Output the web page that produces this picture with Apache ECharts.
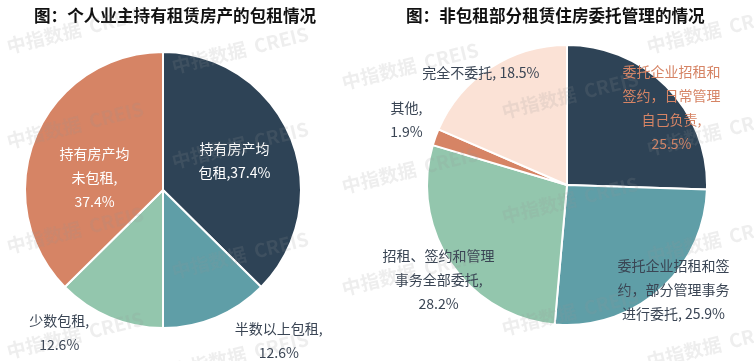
<!DOCTYPE html>
<html><head><meta charset="utf-8">
<script src="https://cdn.jsdelivr.net/npm/echarts@6/dist/echarts.min.js"></script>
<style>html,body{margin:0;padding:0;background:#fff}#c{width:754px;height:361px}</style>
</head><body><div id="c"></div>
<script>
// ---- data ----
const leftTitle = '图：个人业主持有租赁房产的包租情况';
const rightTitle = '图：非包租部分租赁住房委托管理的情况';
const leftNames = ['持有房产均包租', '半数以上包租', '少数包租', '持有房产均未包租'];
const leftValues = [37.4, 12.6, 12.6, 37.4];
const leftLabelText = ['持有房产均\n包租,', '半数以上包租,\n', '少数包租,\n', '持有房产均\n未包租,\n'];
const rightNames = ['委托企业招租和签约，日常管理自己负责', '委托企业招租和签约，部分管理事务进行委托', '招租、签约和管理事务全部委托', '其他', '完全不委托'];
const rightValues = [25.5, 25.9, 28.2, 1.9, 18.5];
const rightLabelText = ['委托企业招租和\n签约，日常管理\n自己负责,\n', '委托企业招租和签\n约，部分管理事务\n进行委托, ', '招租、签约和管理\n事务全部委托,\n', '其他,\n', '完全不委托, '];

// ---- styles ----
const FONT = '"Noto Sans CJK SC", "Noto Sans", sans-serif';
const NAVY = '#2e4356', TEAL = '#5f9ea7', GREEN = '#93c6ad', ORANGE = '#d68465', PEACH = '#fbe2d6';
const TXT = '#3a4554';
const leftColors = [NAVY, TEAL, GREEN, ORANGE];
const rightColors = [NAVY, TEAL, GREEN, ORANGE, PEACH];
const leftLabelStyle = [
  {color: '#fff', offset: [5, -2]},
  {color: TXT, offset: [88, 84]},
  {color: TXT, offset: [-76, 76]},
  {color: '#fff', offset: [-2, 15]}
];
const rightLabelStyle = [
  {color: ORANGE, offset: [52, -27]},
  {color: TXT, offset: [58, 50]},
  {color: TXT, offset: [-68, 54]},
  {color: TXT, offset: [-92, -40]},
  {color: TXT, offset: [-46, -51]}
];

function buildData(names, values, colors, texts, styles) {
  return names.map((n, i) => ({
    name: n, value: values[i],
    itemStyle: {color: colors[i]},
    label: {
      show: true, position: 'inside', color: styles[i].color, offset: styles[i].offset,
      formatter: () => texts[i] + values[i].toFixed(1) + '%'
    }
  }));
}

const wm = [];
const wmPos = [[75,30],[75,125],[75,230],[75,335],[240,50],[240,145],[240,255],[240,355],
  [410,66],[410,170],[410,272],[570,95],[570,200],[570,312],[715,30],[715,132],[715,240],[715,345]];
wmPos.forEach(p => wm.push({
  type: 'text', x: p[0], y: p[1], rotation: 0.24, z: 100, silent: true,
  style: {text: '中指数据  CREIS', fill: 'rgba(150,150,150,0.16)', font: 'bold 19px ' + FONT,
    align: 'center', verticalAlign: 'middle'}
}));

const chart = echarts.init(document.getElementById('c'));
chart.setOption({
  backgroundColor: '#fff',
  animation: false,
  title: [
    {text: leftTitle, left: 29, top: 2, textStyle: {fontFamily: FONT, fontSize: 16.6, fontWeight: 'bold', color: '#111'}},
    {text: rightTitle, left: 401, top: 2, textStyle: {fontFamily: FONT, fontSize: 16.6, fontWeight: 'bold', color: '#111'}}
  ],
  graphic: wm,
  series: [
    {
      type: 'pie', center: [163, 190], radius: 138, startAngle: 90, clockwise: true,
      itemStyle: {borderColor: '#fff', borderWidth: 2},
      label: {fontFamily: FONT, fontSize: 14, lineHeight: 24},
      labelLine: {show: false},
      emphasis: {disabled: true},
      data: buildData(leftNames, leftValues, leftColors, leftLabelText, leftLabelStyle)
    },
    {
      type: 'pie', center: [567, 185], radius: 140, startAngle: 90, clockwise: true,
      itemStyle: {borderColor: '#fff', borderWidth: 2},
      label: {fontFamily: FONT, fontSize: 14, lineHeight: 24},
      labelLine: {show: false},
      emphasis: {disabled: true},
      data: buildData(rightNames, rightValues, rightColors, rightLabelText, rightLabelStyle)
    }
  ]
});
</script></body></html>
